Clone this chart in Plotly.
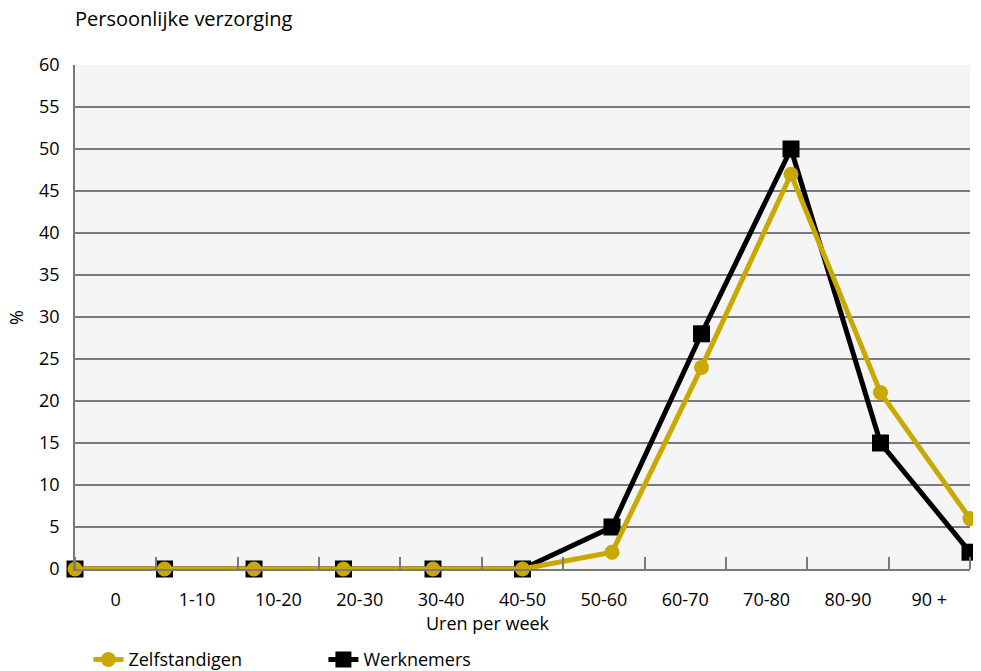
import plotly.graph_objects as go

# categorieën en waarden
categorieen = ["0", "1-10", "10-20", "20-30", "30-40", "40-50", "50-60", "60-70", "70-80", "80-90", "90 +"]
zelfstandigen = [0, 0, 0, 0, 0, 0, 2, 24, 47, 21, 6]
werknemers = [0, 0, 0, 0, 0, 0, 5, 28, 50, 15, 2]

GOUD = "#c9a800"
GRIJS = "#7a7a7a"
FONT = "Open Sans"

n = len(categorieen)
posities = list(range(n))
# de punten staan op 0..n-1 over de hele breedte, de labels in het midden van n gelijke vakken
breedte = (n - 1) / n
label_pos = [(i + 0.5) * breedte for i in range(n)]

fig = go.Figure()

# werknemers eerst, zodat de gouden lijn erbovenop ligt
fig.add_trace(go.Scatter(
    x=posities, y=werknemers, name="Werknemers",
    mode="lines+markers",
    line=dict(color="black", width=5),
    marker=dict(symbol="square", size=17, color="black"),
    cliponaxis=False, legendrank=2,
))
fig.add_trace(go.Scatter(
    x=posities, y=zelfstandigen, name="Zelfstandigen",
    mode="lines+markers",
    line=dict(color=GOUD, width=5),
    marker=dict(symbol="circle", size=15, color=GOUD),
    cliponaxis=False, legendrank=1,
))

# de pagina heeft 8px marge rond de figuur
fig.update_layout(
    width=973, height=663,
    margin=dict(l=67, r=11, t=57, b=102, autoexpand=False),
    paper_bgcolor="white",
    plot_bgcolor="#f5f5f5",
    font=dict(family=FONT, size=18, color="black"),
    title=dict(
        text="Persoonlijke verzorging", font=dict(size=20),
        x=0, xref="paper", xanchor="left", y=0.984, yanchor="middle",
    ),
    xaxis=dict(
        range=[0, n - 1], automargin=False,
        tickvals=label_pos, ticktext=categorieen,
        ticks="", showgrid=False, zeroline=False,
        showline=True, linecolor=GRIJS, linewidth=1.5,
        ticklabelstandoff=14,
        minor=dict(tickmode="linear", tick0=0, dtick=breedte, ticks="inside",
                   ticklen=12, tickcolor=GRIJS, tickwidth=1.5, showgrid=False),
    ),
    yaxis=dict(
        range=[0, 60], dtick=5, ticks="", automargin=False,
        showgrid=True, gridcolor=GRIJS, gridwidth=1.5,
        zeroline=False, showline=True, linecolor=GRIJS, linewidth=1.5,
        ticklabelstandoff=10,
    ),
    legend=dict(
        orientation="h", x=0.015, xanchor="left", y=-0.18, yanchor="middle",
        font=dict(size=18), entrywidth=190, bgcolor="rgba(0,0,0,0)",
    ),
    annotations=[
        dict(
            text="Uren per week", xref="paper", yref="paper",
            x=0.4615, y=-0.107, xanchor="center", yanchor="middle",
            showarrow=False, font=dict(size=18),
        ),
        dict(
            text="%", xref="paper", yref="paper", textangle=-90,
            x=-0.066, y=0.5, xanchor="center", yanchor="middle",
            showarrow=False, font=dict(size=18),
        ),
    ],
)

fig.write_html("out.html")
